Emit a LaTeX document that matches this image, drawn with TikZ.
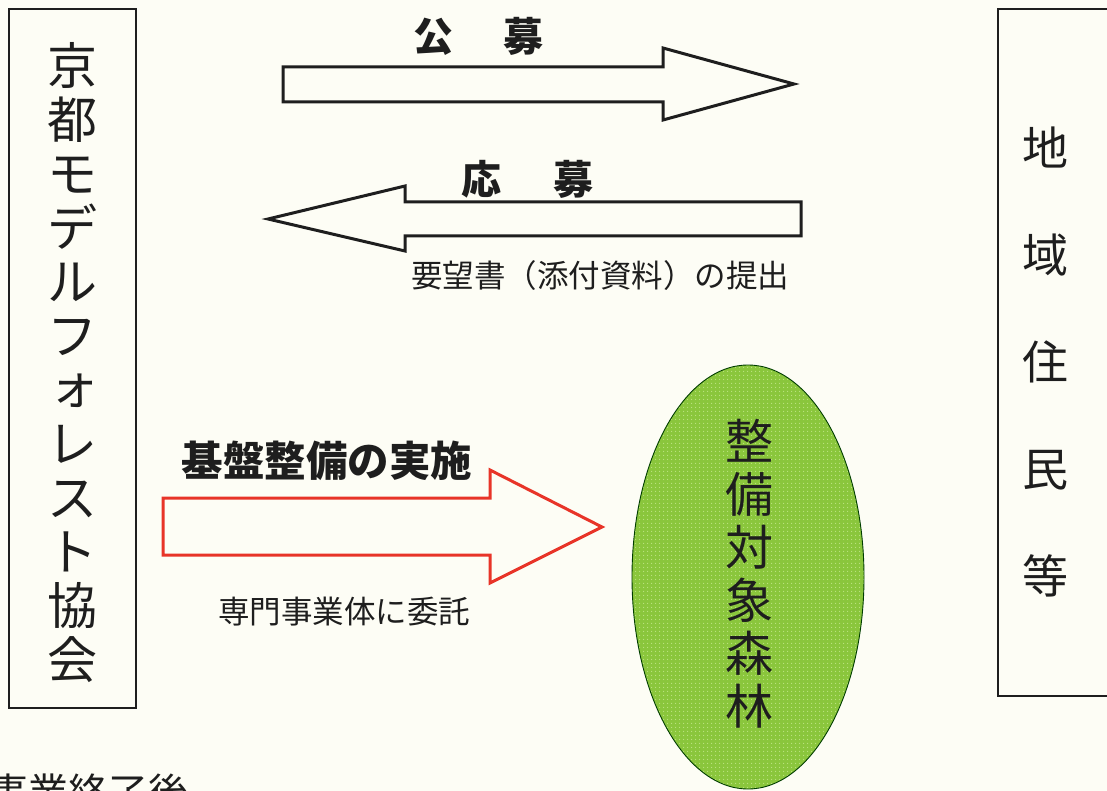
\documentclass[tikz,border=0pt]{standalone}
\usepackage{fontspec}
\newfontfamily\jp{Noto Sans CJK JP}
\usetikzlibrary{shapes.geometric,patterns.meta}
\definecolor{bg}{RGB}{253,253,245}
\definecolor{arrred}{RGB}{232,52,40}
\definecolor{forest}{RGB}{138,198,60}
\definecolor{forestdot}{RGB}{190,228,132}
\definecolor{ink}{RGB}{30,30,30}
\begin{document}
\begin{tikzpicture}[x=1pt,y=-1pt,
  frame/.style={draw=ink, line width=2.4pt},
  blockarrow/.style={draw=ink, line width=3pt, fill=bg, line join=miter},
  redarrow/.style={draw=arrred, line width=3pt, fill=bg, line join=miter},
  vtext/.style={align=center, inner sep=0pt, text=ink},
  lab/.style={inner sep=0pt, text=ink},
  forestshape/.style={ellipse, draw=black!60!green!60!black, line width=0.9pt,
    preaction={fill=forest}, pattern={Dots[distance=4pt,radius=0.8pt]},
    pattern color=forestdot, minimum width=232pt, minimum height=424pt, inner sep=0pt}
]
\fill[bg] (0,0) rectangle (1107,791);
\useasboundingbox (0,0) rectangle (1107,791);
\begin{scope}
\clip (0,0) rectangle (1107,791);

% left box
\node[frame, minimum width=127pt, minimum height=699pt, anchor=north west, inner sep=0pt] (kyoto) at (8,8) {};
\node[vtext, font=\jp\fontsize{50}{54}\selectfont] (kyototext) at (72,363)
  {京\\都\\モ\\デ\\ル\\フ\\\raisebox{0.08em}{\hspace{0.1em}ォ}\\レ\\ス\\ト\\協\\会};

% right box
\node[frame, minimum width=140pt, minimum height=687pt, anchor=north west, inner sep=0pt] (jumin) at (997,8) {};
\node[vtext, font=\jp\fontsize{46}{107}\selectfont] (jumintext) at (1045,362)
  {地\\域\\住\\民\\等};

% top arrow (公募)
\path[blockarrow] (283,67) -- (663,67) -- (663,48) -- (794,84) -- (663,120) -- (663,102) -- (283,102) -- cycle;
\node[lab, font=\jp\bfseries\fontsize{40}{44}\selectfont] (koubo) at (478,36) {公\hspace{50pt}募};

% bottom arrow (応募)
\path[blockarrow] (801,202) -- (405,202) -- (405,186) -- (268,219) -- (405,251) -- (405,236) -- (801,236) -- cycle;
\node[lab, font=\jp\bfseries\fontsize{40}{44}\selectfont] (oubo) at (527,179) {応\hspace{52pt}募};
\node[lab, font=\jp\fontsize{31.5}{36}\selectfont] (youbou) at (600,276) {要望書（添付資料）の提出};

% red arrow
\path[redarrow] (163,498) -- (490,498) -- (490,470) -- (602,527) -- (490,583) -- (490,555) -- (163,555) -- cycle;
\node[lab, font=\jp\bfseries\fontsize{41.5}{46}\selectfont] (kiban) at (327,461) {基盤整備の実施};
\node[lab, font=\jp\fontsize{31.5}{36}\selectfont] (itaku) at (344,612) {専門事業体に委託};

% forest ellipse
\node[forestshape] (forest) at (748,577) {};
\node[vtext, font=\jp\fontsize{48}{53}\selectfont] (foresttext) at (749,574)
  {整\\備\\対\\象\\森\\林};

% text cut off at the bottom edge, as in the reference
\node[lab, anchor=base west, font=\jp\fontsize{40}{44}\selectfont] (shuryo) at (-12,807) {事業終了後};
\end{scope}
\end{tikzpicture}
\end{document}
